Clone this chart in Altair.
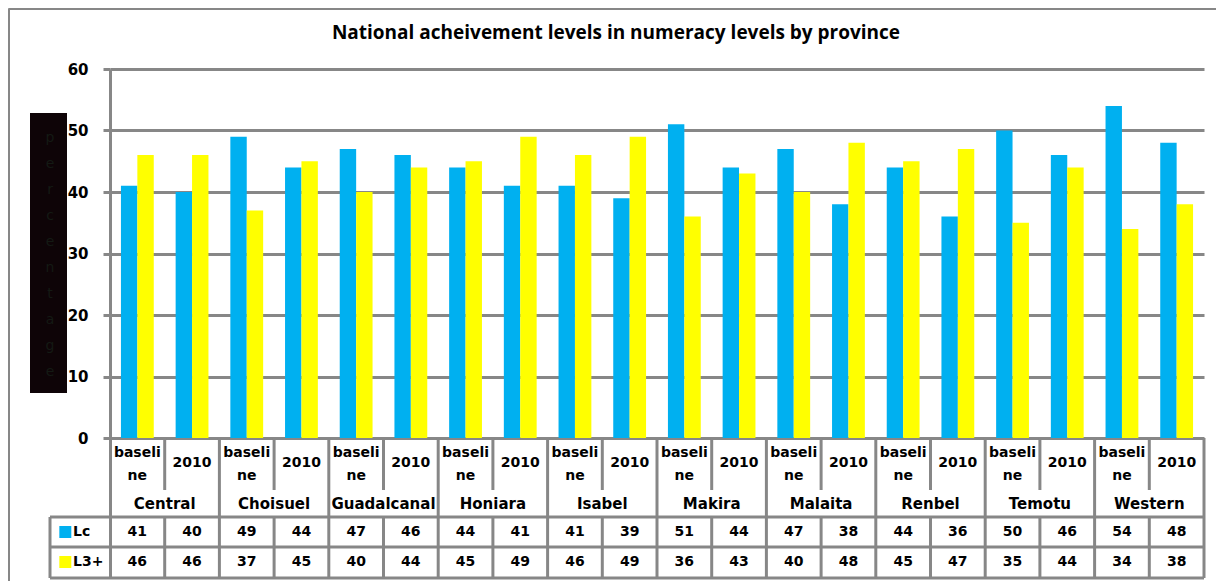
import altair as alt
import pandas as pd

# ---------------- data ----------------
provinces = ["Central", "Choisuel", "Guadalcanal", "Honiara", "Isabel",
             "Makira", "Malaita", "Renbel", "Temotu", "Western"]
periods = ["baseline", "2010"]
period_labels = ["baseli\nne", "2010"]
series = ["Lc", "L3+"]
lc_values = [41, 40, 49, 44, 47, 46, 44, 41, 41, 39, 51, 44, 47, 38, 44, 36, 50, 46, 54, 48]
l3_values = [46, 46, 37, 45, 40, 44, 45, 49, 46, 49, 36, 43, 40, 48, 45, 47, 35, 44, 34, 38]
y_ticks = [0, 10, 20, 30, 40, 50, 60]
title_text = "National acheivement levels in numeracy levels by province"
axis_title = "percentage"

# ---------------- style / layout ----------------
colors = ["#00B0F0", "#FFFF00"]
GRAY = "#878787"
FONT = "DejaVu Sans"
W, H = 1094, 509
PX = 369 / 60.0          # pixels per data unit on y


def yu(px_below_axis):
    return -px_below_axis / PX


Y_BOTTOM = yu(140)
SUB_END, DATA_TOP, ROW_MID, BOTTOM = yu(52), yu(79), yu(109), yu(140)
Y_PERIOD = [yu(15), yu(25)]
Y_PROV, Y_ROW1, Y_ROW2 = yu(66), yu(94), yu(124)
N = len(provinces) * len(periods)
LEFT_COL = -60 / (W / N)

# ---------------- tables ----------------
slots = [f"{p}|{q}" for p in provinces for q in periods]
bar_rows = []
for i, s in enumerate(slots):
    bar_rows.append({"slot": s, "series": series[0], "value": lc_values[i]})
    bar_rows.append({"slot": s, "series": series[1], "value": l3_values[i]})
bars_df = pd.DataFrame(bar_rows)

period_df = pd.DataFrame({
    "x": [i + 0.5 for i in range(N)],
    "y": [Y_PERIOD[i % 2] for i in range(N)],
    "label": [period_labels[i % 2] for i in range(N)],
})
prov_df = pd.DataFrame({
    "x": [2 * k + 1 for k in range(len(provinces))],
    "y": [Y_PROV] * len(provinces),
    "label": provinces,
})
val_rows = []
for i in range(N):
    val_rows.append({"x": i + 0.5, "y": Y_ROW1, "label": str(lc_values[i])})
    val_rows.append({"x": i + 0.5, "y": Y_ROW2, "label": str(l3_values[i])})
val_df = pd.DataFrame(val_rows)

legend_df = pd.DataFrame({
    "series": series,
    "y": [Y_ROW1, Y_ROW2],
    "xs": [LEFT_COL + 0.28] * 2,
    "xt": [LEFT_COL + 0.42] * 2,
})

rule_rows = []
for yy in [DATA_TOP, ROW_MID, BOTTOM]:
    rule_rows.append({"x": LEFT_COL, "x2": N, "y": yy, "y2": yy})
rule_rows.append({"x": LEFT_COL, "x2": LEFT_COL, "y": DATA_TOP, "y2": BOTTOM})
for k in range(1, N + 1):
    if k % 2 == 0:
        rule_rows.append({"x": k, "x2": k, "y": 0, "y2": BOTTOM})
    else:
        rule_rows.append({"x": k, "x2": k, "y": 0, "y2": SUB_END})
        rule_rows.append({"x": k, "x2": k, "y": DATA_TOP, "y2": BOTTOM})
rules_df = pd.DataFrame(rule_rows)

one = pd.DataFrame({"a": [0]})

# ---------------- scales ----------------
yscale = alt.Scale(domain=[Y_BOTTOM, 60], nice=False, zero=False)
xlin = alt.Scale(domain=[0, N], nice=False, zero=False)
cscale = alt.Scale(domain=series, range=colors)
yaxis = alt.Axis(values=y_ticks, title=None, grid=True,
                 gridColor=GRAY, gridWidth=3,
                 domainColor=GRAY, domainWidth=3,
                 tickColor=GRAY, tickWidth=3, tickSize=7,
                 labelFont=FONT, labelFontWeight="bold",
                 labelFontSize=15, labelColor="black",
                 labelPadding=15)

bars = alt.Chart(bars_df).mark_bar().encode(
    x=alt.X("slot:N", sort=slots, axis=None,
            scale=alt.Scale(paddingInner=0.4, paddingOuter=0.2)),
    xOffset=alt.XOffset("series:N", sort=series),
    y=alt.Y("value:Q", scale=yscale, axis=yaxis),
    y2=alt.datum(0),
    color=alt.Color("series:N", scale=cscale, legend=None),
)

rules = alt.Chart(rules_df).mark_rule(color=GRAY, strokeWidth=3).encode(
    x=alt.X("x:Q", scale=xlin, axis=None),
    x2="x2:Q",
    y=alt.Y("y:Q", scale=yscale, axis=yaxis),
    y2="y2:Q",
)

period_txt = alt.Chart(period_df).mark_text(
    font=FONT, fontWeight="bold", fontSize=14, lineBreak="\n",
    lineHeight=23, baseline="middle", color="black"
).encode(
    x=alt.X("x:Q", scale=xlin, axis=None),
    y=alt.Y("y:Q", scale=yscale, axis=yaxis),
    text="label:N",
)

prov_txt = alt.Chart(prov_df).mark_text(
    font=FONT, fontWeight="bold", fontSize=15, baseline="middle", color="black"
).encode(
    x=alt.X("x:Q", scale=xlin, axis=None),
    y=alt.Y("y:Q", scale=yscale, axis=yaxis),
    text="label:N",
)

val_txt = alt.Chart(val_df).mark_text(
    font=FONT, fontWeight="bold", fontSize=14, baseline="middle", color="black"
).encode(
    x=alt.X("x:Q", scale=xlin, axis=None),
    y=alt.Y("y:Q", scale=yscale, axis=yaxis),
    text="label:N",
)

leg_sq = alt.Chart(legend_df).mark_square(size=144, opacity=1).encode(
    x=alt.X("xs:Q", scale=xlin, axis=None),
    y=alt.Y("y:Q", scale=yscale, axis=yaxis),
    color=alt.Color("series:N", scale=cscale, legend=None),
)
leg_txt = alt.Chart(legend_df).mark_text(
    font=FONT, fontWeight="bold", fontSize=14, baseline="middle",
    align="left", color="black"
).encode(
    x=alt.X("xt:Q", scale=xlin, axis=None),
    y=alt.Y("y:Q", scale=yscale, axis=yaxis),
    text="series:N",
)

# decorations
title = alt.Chart(one).mark_text(
    font="Open Sans", fontWeight="bold", fontSize=19, color="black",
    baseline="middle", align="center"
).encode(x=alt.value(506), y=alt.value(-36), text=alt.value(title_text))

black_box = alt.Chart(one).mark_rect(color="#0e0407").encode(
    x=alt.value(-80), x2=alt.value(-43), y=alt.value(44), y2=alt.value(324)
)
box_letters = alt.Chart(one).mark_text(
    font=FONT, fontSize=14, color="#141a14", lineBreak="\n", lineHeight=26,
    baseline="middle", align="center"
).encode(x=alt.value(-60), y=alt.value(69), text=alt.value("\n".join(axis_title)))

border_top = alt.Chart(one).mark_rule(color=GRAY, strokeWidth=3).encode(
    x=alt.value(-101.5), x2=alt.value(1120), y=alt.value(-60.5)
)
border_left = alt.Chart(one).mark_rule(color=GRAY, strokeWidth=3).encode(
    x=alt.value(-101.5), y=alt.value(-60.5), y2=alt.value(520)
)

chart = alt.layer(
    bars, border_top, border_left, black_box, box_letters, title,
    rules, period_txt, prov_txt, val_txt, leg_sq, leg_txt
).resolve_scale(x="independent").properties(
    width=W, height=H, autosize="none",
    padding={"left": 102, "top": 61, "right": 12, "bottom": 3},
).configure_view(strokeWidth=0)

chart.save("out.html", embed_options={"renderer": "svg", "actions": False})
